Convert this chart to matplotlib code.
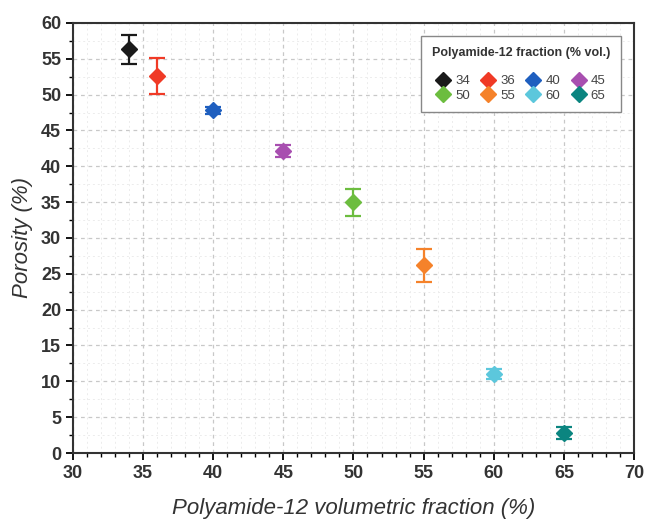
import numpy as np
import matplotlib
matplotlib.use('Agg')
import matplotlib.pyplot as plt
from matplotlib.ticker import MultipleLocator
from matplotlib.lines import Line2D

# data
fraction = [34, 36, 40, 45, 50, 55, 60, 65]
porosity = [56.3, 52.6, 47.8, 42.1, 35.0, 26.2, 11.0, 2.8]
errors = [2.0, 2.5, 0.5, 0.8, 1.9, 2.3, 0.7, 0.8]
colors = ['#1a1a1a', '#f03a26', '#1f5fbf', '#a84fb0',
          '#6cbd3f', '#f5822a', '#5cc7dc', '#0b8580']

plt.rcParams['font.family'] = ['Liberation Sans', 'DejaVu Sans']

fig = plt.figure(figsize=(6.45, 5.21), dpi=100)
ax = fig.add_axes([0.113, 0.1305, 0.870, 0.8255])

for x, y, e, c in zip(fraction, porosity, errors, colors):
    ax.errorbar(x, y, yerr=e, fmt='D', color=c, ms=8, mec=c,
                ecolor=c, elinewidth=1.6, capsize=6, capthick=1.6,
                zorder=3)

ax.set_xlim(30, 70)
ax.set_ylim(0, 60)
ax.xaxis.set_major_locator(MultipleLocator(5))
ax.xaxis.set_minor_locator(MultipleLocator(1))
ax.yaxis.set_major_locator(MultipleLocator(5))
ax.yaxis.set_minor_locator(MultipleLocator(2.5))

ax.grid(which='major', color='#c8c8c8', linestyle=(0, (3, 3)), linewidth=0.9)
ax.grid(which='minor', color='#ececec', linestyle=(0, (2, 3)), linewidth=0.7)
ax.set_axisbelow(True)

ax.tick_params(which='major', direction='out', length=5, width=1.3,
               labelsize=13)
ax.tick_params(which='minor', direction='out', length=3, width=1.0)
for lab in ax.get_xticklabels() + ax.get_yticklabels():
    lab.set_fontweight('bold')
    lab.set_color('#333333')
for sp in ax.spines.values():
    sp.set_linewidth(1.5)
    sp.set_color('#333333')

ax.set_xlabel('Polyamide-12 volumetric fraction (%)', fontsize=16,
              style='italic', color='#333333', labelpad=12)
ax.set_ylabel('Porosity (%)', fontsize=16, style='italic',
              color='#333333', labelpad=6)

# legend: plain diamonds, rows filled left to right
handles = [Line2D([], [], marker='D', ls='none', color=c, ms=8) for c in colors]
labels = [str(f) for f in fraction]
order = [0, 4, 1, 5, 2, 6, 3, 7]
leg = ax.legend([handles[i] for i in order], [labels[i] for i in order],
                ncol=4, loc='upper right', bbox_to_anchor=(0.988, 0.985),
                title='Polyamide-12 fraction (% vol.)',
                title_fontproperties={'weight': 'bold', 'size': 9},
                fontsize=9.5, handlelength=1.0, handletextpad=0.4,
                columnspacing=0.9, labelspacing=0.15, borderpad=0.8,
                fancybox=False, edgecolor='#888888', framealpha=1)
leg.get_title().set_color('#333333')
leg._legend_box.sep = 12
for t in leg.get_texts():
    t.set_color('#444444')

fig.savefig('out.png', dpi=100)
